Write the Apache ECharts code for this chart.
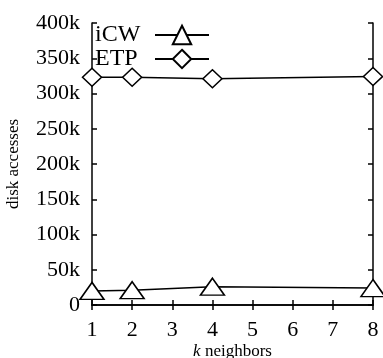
<!DOCTYPE html>
<html><head><meta charset="utf-8">
<script src="https://cdn.jsdelivr.net/npm/echarts@6/dist/echarts.min.js"></script>
<style>html,body{margin:0;padding:0;background:#fff}#c{width:383px;height:358px}</style>
</head><body><div id="c"></div>
<script>
const kValues = [1, 2, 4, 8];
const xTicks = [1, 2, 3, 4, 5, 6, 7, 8];
const yTicks = [0, 50000, 100000, 150000, 200000, 250000, 300000, 350000, 400000];
const icwValues = [20000, 21000, 26000, 24000];
const etpValues = [323000, 323000, 321000, 324000];
const seriesNames = ['iCW', 'ETP'];

const F = 'Liberation Serif';
const chart = echarts.init(document.getElementById('c'));
const axisLine = {show: true, lineStyle: {color: '#000', width: 1.5}};
const ticksIn = {show: true, inside: true, length: 5, lineStyle: {color: '#000', width: 1.5}};
chart.setOption({
  animation: false,
  grid: {left: 92, right: 10, top: 23, bottom: 53, outerBoundsMode: 'none', containLabel: false},
  legend: {
    orient: 'vertical', left: 95, top: 23, align: 'right', itemGap: 0,
    itemWidth: 54, itemHeight: 23, padding: 0,
    formatter: name => '{t|' + name + '}',
    textStyle: {fontFamily: F, fontSize: 24, color: '#000',
      rich: {t: {fontFamily: F, fontSize: 24, color: '#000', width: 55, align: 'left'}}},
    data: seriesNames
  },
  xAxis: [{
    type: 'value', min: 1, max: 8, interval: 1, position: 'bottom',
    axisLine, axisTick: ticksIn, splitLine: {show: false},
    axisLabel: {fontFamily: F, fontSize: 22, color: '#000', margin: 14},
    name: '{i|k} neighbors', nameLocation: 'middle', nameGap: 38, nameMoveOverlap: false,
    nameTextStyle: {fontFamily: F, fontSize: 17, color: '#000',
      rich: {i: {fontFamily: F, fontSize: 17, fontStyle: 'italic', color: '#000'}}}
  }, {
    type: 'value', min: 1, max: 8, interval: 1, position: 'top',
    axisLine, axisTick: ticksIn, axisLabel: {show: false}, splitLine: {show: false}
  }],
  yAxis: [{
    type: 'value', min: 0, max: 400000, interval: 50000, position: 'left',
    axisLine, axisTick: ticksIn, splitLine: {show: false},
    axisLabel: {fontFamily: F, fontSize: 22, color: '#000', margin: 12,
      formatter: v => v === 0 ? '0' : (v / 1000) + 'k'},
    name: 'disk accesses', nameLocation: 'middle', nameGap: 70, nameMoveOverlap: false,
    nameTextStyle: {fontFamily: F, fontSize: 17, color: '#000'}
  }, {
    type: 'value', min: 0, max: 400000, interval: 50000, position: 'right',
    axisLine, axisTick: ticksIn, axisLabel: {show: false}, splitLine: {show: false}
  }],
  series: [{
    name: seriesNames[0], type: 'line', symbol: 'triangle', symbolSize: [24, 17],
    data: kValues.map((k, i) => [k, icwValues[i]]),
    lineStyle: {color: '#000', width: 1.5},
    itemStyle: {color: '#fff', borderColor: '#000', borderWidth: 1.5},
    showAllSymbol: true
  }, {
    name: seriesNames[1], type: 'line', symbol: 'diamond', symbolSize: [19, 18],
    data: kValues.map((k, i) => [k, etpValues[i]]),
    lineStyle: {color: '#000', width: 1.5},
    itemStyle: {color: '#fff', borderColor: '#000', borderWidth: 1.5},
    showAllSymbol: true
  }]
});
</script></body></html>
